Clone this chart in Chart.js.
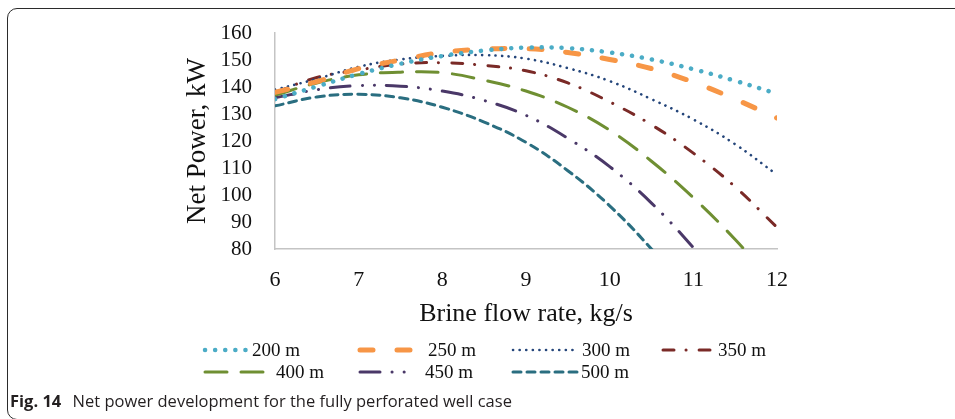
<!DOCTYPE html>
<html>
<head>
<meta charset="utf-8">
<script src="https://cdn.jsdelivr.net/npm/chart.js@4.4.1/dist/chart.umd.min.js"></script>
<style>
  html, body { margin: 0; padding: 0; background: #fff; }
  body { width: 955px; height: 419px; position: relative; overflow: hidden; }
  #frame {
    position: absolute; left: 7px; top: 8px; width: 970px; height: 412px;
    border: 1.5px solid #2b2b2b; border-radius: 10px; box-sizing: border-box;
  }
  #wrap { position: absolute; left: 180px; top: 20px; width: 620px; height: 370px; }
  #caption {
    position: absolute; left: 10px; top: 390px; font-family: "Open Sans", sans-serif;
    font-size: 16.5px; color: #231f20; white-space: nowrap; line-height: 22px;
  }
  #caption b { font-weight: 700; margin-right: 7px; }
</style>
</head>
<body>
<div id="frame"></div>
<div id="wrap"><canvas id="grafik" width="620" height="370"></canvas></div>
<div id="caption"><b>Fig. 14</b> Net power development for the fully perforated well case</div>

<script>
// brine flow rate, kg/s
const debiler = [6, 6.5, 7, 7.5, 8, 8.5, 9, 9.5, 10, 10.5, 11, 11.5, 12];

// net power, kW
const guc200 = [135.5, 140.2, 144.8, 148.6, 151.5, 153.5, 154.6, 154.4, 152.8, 150.2, 146.6, 142.3, 137.5];
const guc250 = [138, 142, 146.8, 150, 152.8, 154, 154.2, 152.8, 150.2, 146.8, 141.8, 135.5, 128.5];
const guc300 = [139, 143, 147.5, 150.2, 151.5, 151.8, 150.5, 147, 142.2, 135.5, 128, 118.8, 107.5];
const guc350 = [138, 143.5, 146.3, 148.5, 149, 148, 146, 141.5, 134.5, 126, 115.5, 103, 88];
const guc400 = [137, 141.5, 144.5, 145.5, 145.3, 142.5, 138.5, 132.5, 124, 112.5, 99, 83.5, 66];
const guc450 = [136, 139, 140.5, 140.3, 138.5, 135, 129.5, 121, 110.5, 97, 80.5, 62, null];
const guc500 = [133, 136.3, 137.3, 136, 132.5, 127, 119.5, 109, 96, 80, 62, null, null];

const seriler = ["200 m", "250 m", "300 m", "350 m", "400 m", "450 m", "500 m"];
const yTikleri = [80, 90, 100, 110, 120, 130, 140, 150, 160];
const xTikleri = [6, 7, 8, 9, 10, 11, 12];

const seri = (etiket, veri, renk, kalinlik, dash) => ({
  label: etiket,
  data: debiler.map((x, i) => ({ x: x, y: veri[i] })),
  borderColor: renk,
  borderWidth: kalinlik,
  borderDash: dash,
  borderCapStyle: "round",
  pointRadius: 0,
  tension: 0.4,
  fill: false,
  clip: 0
});

const datasets = [
  seri(seriler[0], guc200, "#4bacc6", 4.5, [0.1, 10]),
  seri(seriler[1], guc250, "#f79646", 5, [13, 24]),
  seri(seriler[2], guc300, "#24457a", 2.6, [0.1, 6.5]),
  seri(seriler[3], guc350, "#7a2a27", 3, [11, 12, 0.1, 13]),
  seri(seriler[4], guc400, "#6f8f32", 3, [22, 14]),
  seri(seriler[5], guc450, "#4a3868", 3, [20, 12, 0.1, 12, 0.1, 12]),
  seri(seriler[6], guc500, "#2a6e80", 3, [8, 6])
];

// legend drawn by hand so the columns line up like the original
const lejantYerleri = [
  { x1: 25, x2: 67, tx: 72, y: 330 },
  { x1: 180, x2: 240, tx: 248, y: 330 },
  { x1: 333, x2: 398, tx: 402, y: 330 },
  { x1: 483, x2: 530, tx: 538, y: 330 },
  { x1: 25, x2: 93, tx: 96, y: 352 },
  { x1: 180, x2: 232, tx: 245, y: 352 },
  { x1: 333, x2: 398, tx: 401, y: 352 }
];

const lejantPlugin = {
  id: "lejant",
  afterDraw(chart) {
    const ctx = chart.ctx;
    chart.data.datasets.forEach((ds, i) => {
      const p = lejantYerleri[i];
      ctx.save();
      ctx.strokeStyle = ds.borderColor;
      ctx.lineWidth = ds.borderWidth;
      ctx.lineCap = "round";
      ctx.setLineDash(ds.borderDash);
      ctx.beginPath();
      ctx.moveTo(p.x1, p.y);
      ctx.lineTo(p.x2, p.y);
      ctx.stroke();
      ctx.setLineDash([]);
      ctx.fillStyle = "#111";
      ctx.font = "19px 'Liberation Serif', serif";
      ctx.textBaseline = "middle";
      ctx.fillText(ds.label, p.tx, p.y + 1);
      ctx.restore();
    });
  }
};

const serifFont = (size) => ({ family: "'Liberation Serif', 'Times New Roman', serif", size: size });

new Chart(document.getElementById("grafik"), {
  type: "line",
  data: { datasets: datasets },
  plugins: [lejantPlugin],
  options: {
    responsive: false,
    animation: false,
    devicePixelRatio: 1,
    layout: { padding: { top: 13, right: 23, bottom: 60, left: 0 } },
    plugins: { legend: { display: false }, tooltip: { enabled: false } },
    scales: {
      x: {
        type: "linear",
        min: 6,
        max: 12,
        afterBuildTicks: (s) => { s.ticks = xTikleri.map(v => ({ value: v })); },
        afterFit: (s) => { s.height = 81; s.paddingLeft = 0; s.paddingRight = 0; },
        grid: { display: false, drawTicks: false },
        border: { display: true, color: "#c4c4c4", width: 1.5 },
        ticks: { color: "#111", font: serifFont(22), padding: 18, maxRotation: 0, autoSkip: false },
        title: {
          display: true, text: "Brine flow rate, kg/s", color: "#111",
          font: serifFont(26), padding: { top: 0, bottom: 0 }
        }
      },
      y: {
        min: 80,
        max: 160,
        afterBuildTicks: (s) => { s.ticks = yTikleri.map(v => ({ value: v })); },
        afterFit: (s) => { s.width = 95; s.paddingTop = 0; s.paddingBottom = 0; },
        grid: { display: false, drawTicks: false },
        border: { display: true, color: "#c4c4c4", width: 1.5 },
        ticks: { color: "#111", font: serifFont(21), padding: 23, autoSkip: false },
        title: {
          display: true, text: "Net Power, kW", color: "#111",
          font: serifFont(27), padding: { top: 2, bottom: 0 }
        }
      }
    }
  }
});
</script>
</body>
</html>
